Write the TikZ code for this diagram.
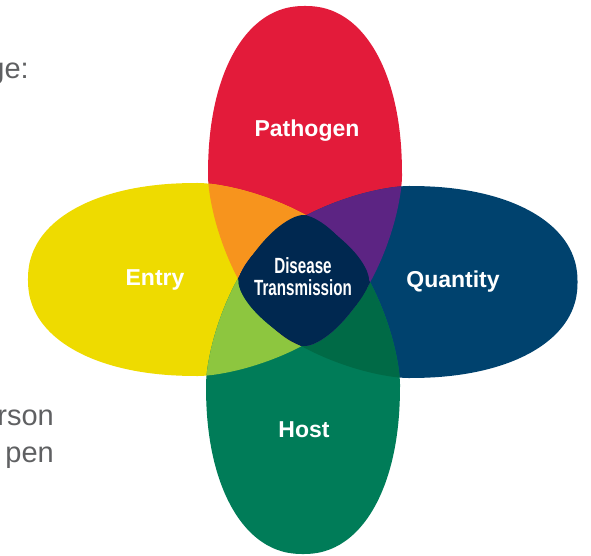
\documentclass[tikz,border=0pt]{standalone}
\usepackage{fontspec}
\setmainfont{Liberation Sans}
\definecolor{cRed}{HTML}{E31B3A}
\definecolor{cYellow}{HTML}{EEDB00}
\definecolor{cBlue}{HTML}{00426E}
\definecolor{cGreen}{HTML}{007C58}
\definecolor{cOrange}{HTML}{F7941D}
\definecolor{cPurple}{HTML}{5C2483}
\definecolor{cLime}{HTML}{8DC63F}
\definecolor{cDkGreen}{HTML}{006A46}
\definecolor{cNavy}{HTML}{002850}
\definecolor{cGrayText}{HTML}{5F6062}
\tikzset{
  petal/.style={font=\bfseries\fontsize{23}{26}\selectfont, text=white, inner sep=0pt},
  sidetext/.style={font=\fontsize{29}{38}\selectfont, text=cGrayText, inner sep=0pt, anchor=base east},
  redP/.style={shift={(305,176)},rotate=-90},
  yelP/.style={shift={(198.5,279.5)},rotate=0},
  bluP/.style={shift={(408,282)},rotate=180},
  grnP/.style={shift={(303,384.5)},rotate=90},
}
% egg-like petal: inner tip along local +x (sharper), outer end rounder
\newcommand{\petalshape}[2]{%
  plot[variable=\t,domain=0.3:89.7,samples=60] ({#1*pow(cos(\t),1.25)},{#2*pow(sin(\t),1.25)})
  -- plot[variable=\t,domain=0.3:89.7,samples=60] ({-#1*pow(sin(\t),0.909)},{#2*pow(cos(\t),0.909)})
  -- plot[variable=\t,domain=0.3:89.7,samples=60] ({-#1*pow(cos(\t),0.909)},{-#2*pow(sin(\t),0.909)})
  -- plot[variable=\t,domain=0.3:89.7,samples=60] ({#1*pow(sin(\t),1.25)},{-#2*pow(cos(\t),1.25)})
  -- cycle}
\newcommand{\redS}{\petalshape{170}{97}}
\newcommand{\yelS}{\petalshape{170.5}{96.5}}
\newcommand{\bluS}{\petalshape{169.5}{96}}
\newcommand{\grnS}{\petalshape{169.5}{97}}
\begin{document}
\begin{tikzpicture}[x=1pt,y=-1pt]
\useasboundingbox (0,0) rectangle (591,556);
\clip (0,0) rectangle (591,556);
% petals
\fill[cRed,redP] \redS;
\fill[cYellow,yelP] \yelS;
\fill[cBlue,bluP] \bluS;
\fill[cGreen,grnP] \grnS;
% pairwise overlaps
\begin{scope}\path[clip,yelP] \yelS; \fill[cLime,grnP] \grnS; \end{scope}
\begin{scope}\path[clip,bluP] \bluS; \fill[cDkGreen,grnP] \grnS; \end{scope}
\begin{scope}\path[clip,redP] \redS; \fill[cOrange,yelP] \yelS; \end{scope}
\begin{scope}\path[clip,redP] \redS; \fill[cPurple,bluP] \bluS; \end{scope}
% center: every point lying in at least three petals
\begin{scope}\path[clip,redP] \redS; \path[clip,yelP] \yelS; \fill[cNavy,bluP] \bluS; \end{scope}
\begin{scope}\path[clip,redP] \redS; \path[clip,yelP] \yelS; \fill[cNavy,grnP] \grnS; \end{scope}
\begin{scope}\path[clip,redP] \redS; \path[clip,bluP] \bluS; \fill[cNavy,grnP] \grnS; \end{scope}
\begin{scope}\path[clip,yelP] \yelS; \path[clip,bluP] \bluS; \fill[cNavy,grnP] \grnS; \end{scope}
% labels
\node[petal] (pathogen) at (307,131) {Pathogen};
\node[petal] (entry) at (155,280) {Entry};
\node[petal] (quantity) at (453,282) {Quantity};
\node[petal] (host) at (304,430) {Host};
\node[font=\bfseries\fontsize{22}{22}\selectfont, text=white, align=center, inner sep=0pt, xscale=0.69] (center) at (303,277) {Disease\\Transmission};
% partial side text
\node[sidetext] (t1) at (29,79) {ge:};
\node[sidetext] (t2) at (54,425) {rson};
\node[sidetext] (t3) at (54,462) {pen};
\end{tikzpicture}
\end{document}
